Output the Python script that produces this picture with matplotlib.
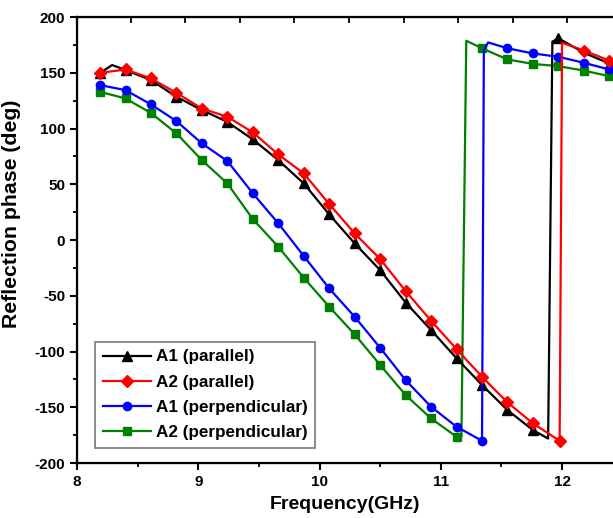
"""Reflection phase vs frequency for A1/A2, parallel and perpendicular."""

import matplotlib.pyplot as plt
from matplotlib.ticker import MultipleLocator

plt.rcParams["font.family"] = ["Liberation Sans", "DejaVu Sans"]
plt.rcParams["font.weight"] = "bold"
plt.rcParams["axes.unicode_minus"] = False

# marker grid is every 0.21 GHz; extra points mark the 180 deg wrap
f_a1_par = [8.19, 8.29, 8.40, 8.61, 8.82, 9.03, 9.24, 9.45, 9.66, 9.87, 10.08, 10.29,
            10.50, 10.71, 10.92, 11.13, 11.34, 11.55, 11.76, 11.885, 11.92, 11.97, 12.18, 12.42]
p_a1_par = [150, 157, 152.5, 143.5, 128.5, 116.6, 106, 90.3, 71.7, 50.8, 23, -3,
            -27, -56, -80.7, -106, -130, -152.5, -170.4, -178, 178, 181, 168, 157]
m_a1_par = [0, 2, 3, 4, 5, 6, 7, 8, 9, 10, 11, 12, 13, 14, 15, 16, 17, 18, 21]

f_a2_par = [8.19, 8.40, 8.61, 8.82, 9.03, 9.24, 9.45, 9.66, 9.87, 10.08, 10.29, 10.50,
            10.71, 10.92, 11.13, 11.34, 11.55, 11.76, 11.98, 12.0, 12.18, 12.39, 12.42]
p_a2_par = [150, 153, 145, 132, 118, 110.6, 96.6, 76.8, 59.8, 32.3, 6, -17,
            -45.7, -72.4, -97.8, -122.6, -145.6, -164.4, -180, 177, 170, 161, 160]
m_a2_par = list(range(19)) + [20, 21]

f_a1_perp = [8.19, 8.40, 8.61, 8.82, 9.03, 9.24, 9.45, 9.66, 9.87, 10.08, 10.29, 10.50,
             10.71, 10.92, 11.13, 11.34, 11.355, 11.39, 11.55, 11.76, 11.97, 12.18, 12.39, 12.42]
p_a1_perp = [139, 134.5, 121.7, 106.7, 86.7, 70.9, 41.9, 15, -14.3, -43.4, -68.8, -96.6,
             -125.6, -149.5, -167.4, -180, 170, 177.3, 172, 167.4, 164.4, 159, 153, 152.5]
m_a1_perp = list(range(16)) + [18, 19, 20, 21, 22]

f_a2_perp = [8.19, 8.40, 8.61, 8.82, 9.03, 9.24, 9.45, 9.66, 9.87, 10.08, 10.29, 10.50,
             10.71, 10.92, 11.13, 11.17, 11.21, 11.34, 11.55, 11.76, 11.97, 12.18, 12.39, 12.42]
p_a2_perp = [133, 127, 114, 95.7, 71.7, 50.8, 18.8, -6, -33.8, -59.8, -84.6, -112,
             -139, -160, -176.4, -176.4, 178.8, 172, 162, 158, 156, 152, 147, 146.5]
m_a2_perp = list(range(15)) + [17, 18, 19, 20, 21, 22]

top_ticks = [8.445 + 0.4495 * k for k in range(9)]


def main():
    fig = plt.figure(figsize=(6.13, 5.18), dpi=100)
    ax = fig.add_axes([0.1256, 0.106, 0.8744, 0.861])

    ax.plot(f_a1_par, p_a1_par, color="black", lw=1.6, marker="^", ms=6.5,
            markevery=m_a1_par, label="A1 (parallel)", zorder=3)
    ax.plot(f_a2_par, p_a2_par, color="#ff0000", lw=1.6, marker="D", ms=6,
            markevery=m_a2_par, label="A2 (parallel)", zorder=4)
    ax.plot(f_a1_perp, p_a1_perp, color="#0000ff", lw=1.6, marker="o", ms=6,
            markevery=m_a1_perp, label="A1 (perpendicular)", zorder=3)
    ax.plot(f_a2_perp, p_a2_perp, color="#008000", lw=1.6, marker="s", ms=6,
            markevery=m_a2_perp, label="A2 (perpendicular)", zorder=2)

    ax.set_xlim(8, 12.42)
    ax.set_ylim(-200, 200)
    ax.xaxis.set_major_locator(MultipleLocator(1))
    ax.xaxis.set_minor_locator(MultipleLocator(0.5))
    ax.yaxis.set_major_locator(MultipleLocator(50))
    ax.yaxis.set_minor_locator(MultipleLocator(25))
    ax.tick_params(which="major", direction="out", length=5, width=1.5, labelsize=11)
    ax.tick_params(which="minor", direction="out", length=3, width=1.3)
    ax.spines["right"].set_visible(False)
    for s in ("left", "bottom", "top"):
        ax.spines[s].set_linewidth(1.6)

    ax.set_xlabel("Frequency(GHz)", fontsize=14, fontweight="bold", labelpad=5)
    ax.set_ylabel("Reflection phase (deg)", fontsize=15.3, fontweight="bold")
    ax.yaxis.set_label_coords(-0.104, 0.56)

    # top axis carries its own unlabeled ticks
    top = ax.twiny()
    top.set_xlim(ax.get_xlim())
    top.set_xticks(top_ticks)
    top.set_xticklabels([])
    top.tick_params(direction="in", length=4, width=1.3)
    top.spines["right"].set_visible(False)

    leg = ax.legend(loc="lower left", bbox_to_anchor=(0.034, 0.034), borderaxespad=0,
                    fancybox=False, edgecolor="#777777", framealpha=1,
                    prop={"size": 12.3, "weight": "bold"}, handlelength=2.8,
                    handletextpad=0.3, labelspacing=0.6, borderpad=0.45)
    leg.get_frame().set_linewidth(1.2)

    fig.savefig("out.png", dpi=100)


if __name__ == "__main__":
    main()
